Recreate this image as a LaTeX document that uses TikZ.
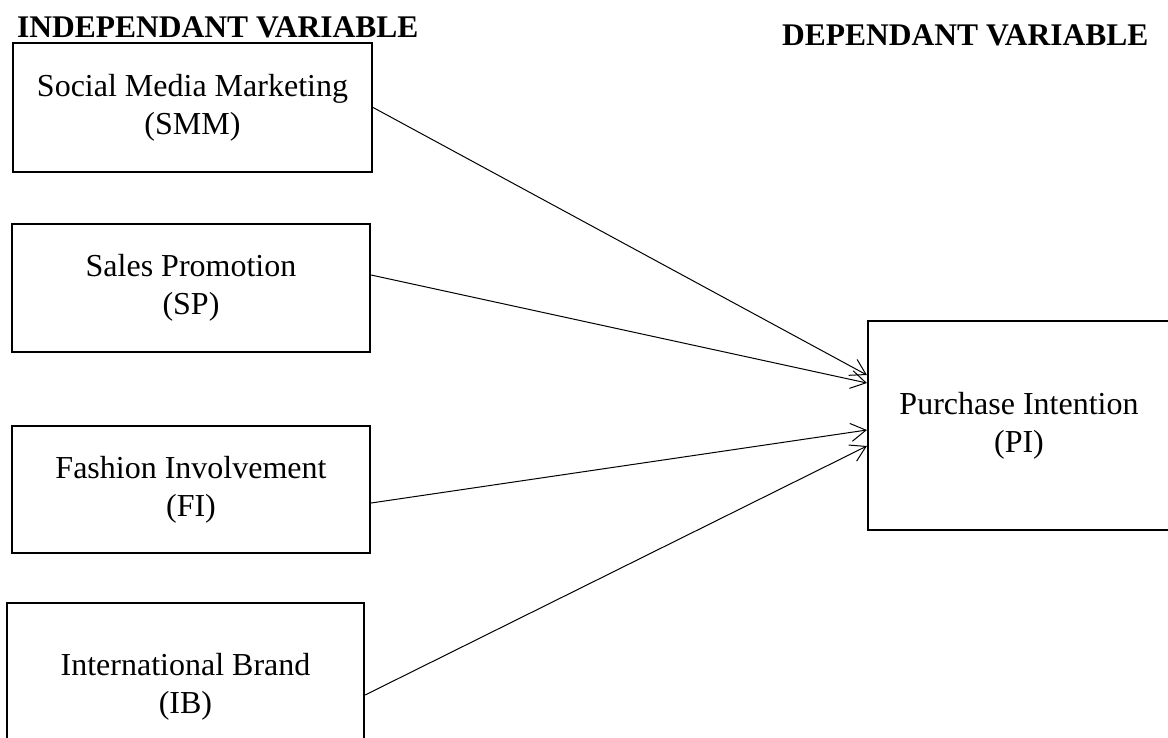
\documentclass[tikz,border=0pt]{standalone}
\usepackage{fontspec}
\setmainfont{Liberation Serif}
\usetikzlibrary{arrows.meta}
\begin{document}
\begin{tikzpicture}[x=1pt,y=-1pt]
\tikzset{
  varbox/.style={draw=black, line width=2.2pt, inner sep=0pt, align=center,
                 font=\fontsize{32}{38}\selectfont},
  link/.style={line width=1pt, -{Straight Barb[length=15pt,width=18pt]}},
  heading/.style={font=\bfseries\fontsize{31.5}{36}\selectfont, inner sep=0pt, anchor=base west}
}
\useasboundingbox (0,0) rectangle (1168,737);
\clip (0,0) rectangle (1168,737);

% column headings
\node[heading] (indep) at (17,37) {INDEPENDANT VARIABLE};
\node[heading] (dep) at (782,45) {DEPENDANT VARIABLE};

% independent variables
\node[varbox, minimum width=359pt, minimum height=129pt] (smm) at (192.5,107.5) {Social Media Marketing\\(SMM)};
\node[varbox, minimum width=358pt, minimum height=128pt] (sp) at (191,288) {Sales Promotion\\(SP)};
\node[varbox, minimum width=358pt, minimum height=127pt] (fi) at (191,489.5) {Fashion Involvement\\(FI)};
\node[varbox, minimum width=357pt, minimum height=167pt] (ib) at (185.5,686.5) {International Brand\\(IB)};

% dependent variable
\node[varbox, minimum width=302pt, minimum height=209pt] (pi) at (1019,425.5) {Purchase Intention\\(PI)};

% paths into purchase intention
\draw[link] (smm.east) -- ([yshift=50.5pt]pi.west);
\draw[link] ([yshift=13pt]sp.east) -- ([yshift=42.5pt]pi.west);
\draw[link] ([yshift=-13.5pt]fi.east) -- ([yshift=-4.5pt]pi.west);
\draw[link] ([yshift=-8.5pt]ib.east) -- ([yshift=-20.5pt]pi.west);
\end{tikzpicture}
\end{document}
